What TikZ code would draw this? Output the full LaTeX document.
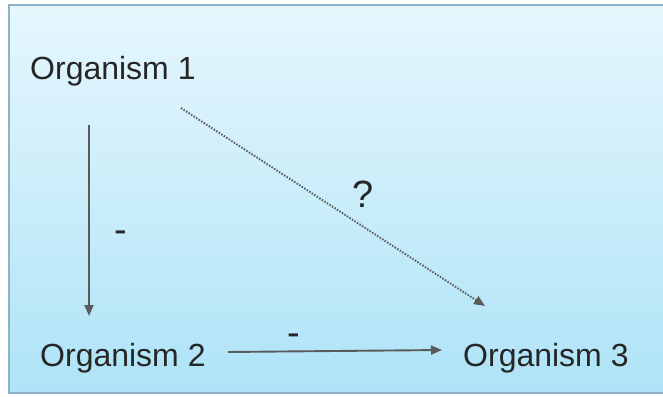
\documentclass[tikz,border=0pt]{standalone}
\usepackage{fontspec}
\setmainfont{Liberation Sans}
\usetikzlibrary{arrows.meta,calc}
\definecolor{bgtop}{HTML}{E6F7FD}
\definecolor{bgbot}{HTML}{AEE3F7}
\definecolor{frame}{HTML}{8FB3C6}
\definecolor{arrcol}{HTML}{5A5A5A}
\definecolor{txtcol}{HTML}{262626}
\begin{document}
\begin{tikzpicture}[x=1pt,y=-1pt,
  lbl/.style={inner sep=0pt,anchor=base west,text=txtcol,font=\fontsize{32}{38}\selectfont},
  sign/.style={inner sep=0pt,text=txtcol,font=\fontsize{38}{44}\selectfont},
  arr/.style={draw=arrcol,line width=1.9pt,-{Triangle[length=11pt,width=9pt]}},
  dotarr/.style={arr,dash pattern=on 1.5pt off 1.5pt}]
\useasboundingbox (0,0) rectangle (663,396);
\shade[top color=bgtop,bottom color=bgbot] (9,5) rectangle (672,393);
\draw[frame,line width=1.2pt] (9,5) rectangle (672,393);
\node[lbl] (o1) at (30,79) {Organism 1};
\node[lbl] (o2) at (40,366) {Organism 2};
\node[lbl] (o3) at (463,366) {Organism 3};
\node[sign] (m1) at (121,237) {-};
\node[sign] (m2) at (294,340) {-};
\node[sign] (q) at (363,194) {?};
\draw[arr] ($(o1.base west)+(59,46)$) -- ($(o2.base west)+(49,-50)$);
\draw[arr] ($(o2.base west)+(188,-14)$) -- ($(o3.base west)+(-21,-16)$);
\draw[dotarr] ($(o1.base west)+(151,29)$) -- ($(o3.base west)+(22,-60)$);
\end{tikzpicture}
\end{document}
